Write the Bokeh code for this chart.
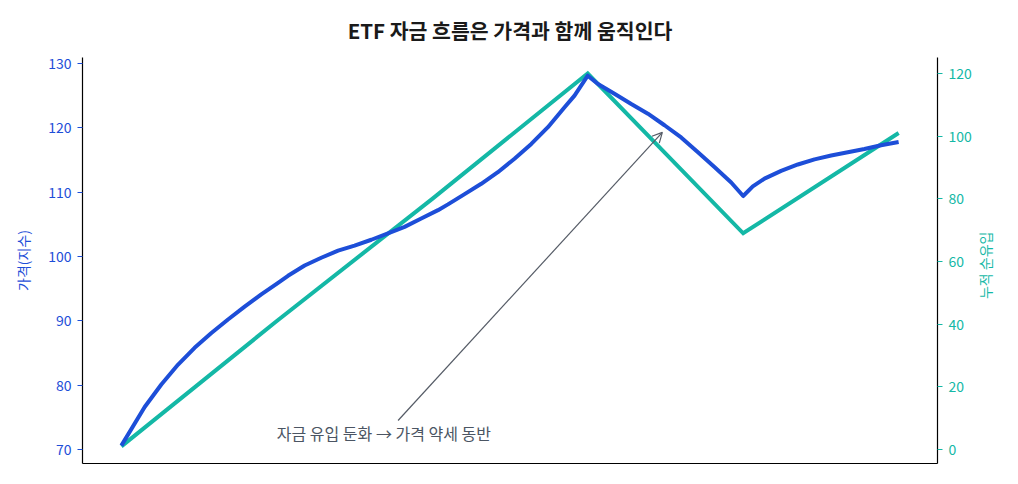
import math
from bokeh.plotting import figure
from bokeh.models import Range1d, LinearAxis, FixedTicker, Label, Arrow, OpenHead
from bokeh.embed import file_html
from bokeh.resources import INLINE

# Price index
price_x = [0, 0.15, 0.257, 0.365, 0.471, 0.579, 0.686, 0.793, 0.9, 1.008, 1.072, 1.179, 1.286,
           1.394, 1.5, 1.608, 1.715, 1.822, 1.929, 2.037, 2.101, 2.208, 2.315, 2.422, 2.529,
           2.637, 2.744, 2.851, 2.915, 3.0, 3.066, 3.172, 3.28, 3.387, 3.494, 3.601, 3.709,
           3.815, 3.923, 4.0, 4.062, 4.137, 4.244, 4.352, 4.459, 4.566, 4.673, 4.78, 4.887, 5.0]
price_y = [70.6, 76.6, 80.1, 83.2, 85.8, 88.1, 90.2, 92.2, 94.1, 95.9, 97.0, 98.6, 99.8,
           100.9, 101.7, 102.6, 103.6, 104.6, 105.9, 107.2, 108.1, 109.7, 111.3, 113.1, 115.2,
           117.5, 120.1, 123.2, 125.0, 128.1, 126.8, 125.3, 123.7, 122.2, 120.4, 118.5, 116.2,
           113.9, 111.5, 109.4, 110.9, 112.1, 113.3, 114.3, 115.1, 115.7, 116.2, 116.7, 117.3, 117.8]

# Cumulative net inflow
flow_x = [0, 1, 2, 3, 4, 5]
flow_y = [1, 41, 80, 120, 69, 101]

price_ticks = [70, 80, 90, 100, 110, 120, 130]
flow_ticks = [0, 20, 40, 60, 80, 100, 120]

title_text = "ETF 자금 흐름은 가격과 함께 움직인다"
left_label = "가격(지수)"
right_label = "누적 순유입"
note_text = "자금 유입 둔화 → 가격 약세 동반"

BLUE = "#1d4ed8"
TEAL = "#14b8a6"
FONT = "Noto Sans CJK KR"

p = figure(width=1018, height=484, output_backend="svg", toolbar_location=None,
           x_range=Range1d(-0.25, 5.25), y_range=Range1d(67.82, 130.93),
           x_axis_location=None, y_axis_location=None,
           min_border_left=82, min_border_right=81, min_border_top=57, min_border_bottom=21)
p.extra_y_ranges = {"flow": Range1d(-4.47, 125.1)}
p.outline_line_color = None
p.xgrid.visible = False
p.ygrid.visible = False
p.background_fill_color = "white"
p.border_fill_color = "white"

p.title.text = title_text
p.title.align = "center"
p.title.text_font = FONT
p.title.text_font_size = "20.5px"
p.title.text_font_style = "bold"
p.title.text_color = "#1a1a1a"
p.title.standoff = 25

# bottom spine
xax = LinearAxis(ticker=FixedTicker(ticks=[]), major_tick_line_color=None,
                 minor_tick_line_color=None, axis_line_color="black", axis_line_width=1.2)
p.add_layout(xax, "below")

lax = LinearAxis(ticker=FixedTicker(ticks=price_ticks), axis_label=left_label)
rax = LinearAxis(y_range_name="flow", ticker=FixedTicker(ticks=flow_ticks))
for ax, col in ((lax, BLUE), (rax, TEAL)):
    ax.axis_line_color = "black"
    ax.axis_line_width = 1.2
    ax.major_tick_line_color = col
    ax.major_tick_in = 0
    ax.major_tick_out = 5
    ax.minor_tick_line_color = None
    ax.major_label_text_color = col
    ax.major_label_text_font = FONT
    ax.major_label_text_font_size = "14px"
    ax.major_label_standoff = 6
    ax.axis_label_text_color = col
    ax.axis_label_text_font = FONT
    ax.axis_label_text_font_size = "14px"
    ax.axis_label_text_font_style = "normal"
    ax.axis_label_standoff = 12
p.add_layout(lax, "left")
p.add_layout(rax, "right")

# right-hand axis title, reading bottom-to-top, drawn as a single rotated tick label
rlab = LinearAxis(y_range_name="flow", ticker=FixedTicker(ticks=[48]),
                  major_label_overrides={48: right_label}, major_label_orientation=math.pi / 2,
                  axis_line_color=None, major_tick_line_color=None, minor_tick_line_color=None,
                  major_label_text_color=TEAL, major_label_text_font=FONT,
                  major_label_text_font_size="14px", major_label_standoff=5)
p.add_layout(rlab, "right")

p.line(flow_x, flow_y, y_range_name="flow", line_color=TEAL, line_width=4, line_join="miter")
p.line(price_x, price_y, line_color=BLUE, line_width=4, line_join="round")

p.add_layout(Arrow(end=OpenHead(size=10, line_color="#555b66", line_width=1.2),
                   x_start=1.78, y_start=74.5, x_end=3.48, y_end=119.3,
                   line_color="#555b66", line_width=1.2))
p.add_layout(Label(x=1.0, y=72.6, text=note_text, text_font=FONT, text_font_size="16px",
                   text_color="#4b5563", text_align="left", text_baseline="middle"))

open("out.html", "w").write(file_html(p, INLINE))
